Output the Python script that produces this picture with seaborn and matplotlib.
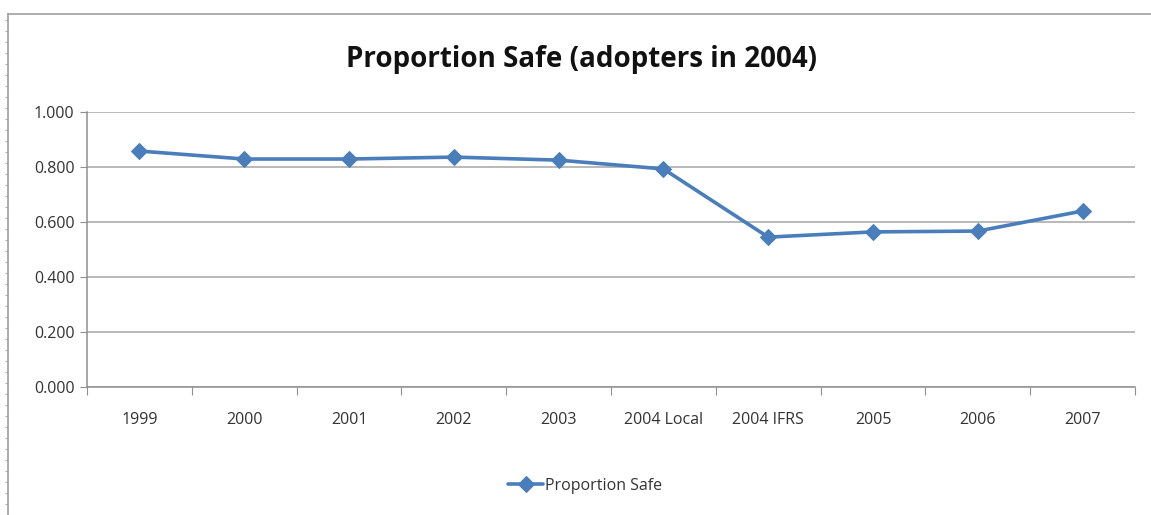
import numpy as np
import matplotlib
matplotlib.use("Agg")
import matplotlib.pyplot as plt
import seaborn as sns
import pandas as pd

categories = ["1999", "2000", "2001", "2002", "2003", "2004 Local",
              "2004 IFRS", "2005", "2006", "2007"]
proportion_safe = [0.858, 0.829, 0.829, 0.836, 0.825, 0.793,
                   0.545, 0.564, 0.567, 0.640]
y_ticks = [0.0, 0.2, 0.4, 0.6, 0.8, 1.0]

sns.set_style("white")
plt.rcParams["font.family"] = ["Open Sans", "DejaVu Sans"]

df = pd.DataFrame({"period": categories, "Proportion Safe": proportion_safe})

fig = plt.figure(figsize=(11.51, 5.15), dpi=100)

# sheet border (left + top) like the excel screenshot
frame = fig.add_axes([8/1151, 0.0, 1.0, 1 - 14/515])
frame.set_xlim(0, 1)
frame.set_ylim(0, 501)
frame.patch.set_alpha(0)
for s in ["right", "bottom"]:
    frame.spines[s].set_visible(False)
for s in ["left", "top"]:
    frame.spines[s].set_color("#a0a0a0")
    frame.spines[s].set_linewidth(1.2)
frame.set_yticks(np.arange(0, 501, 11))
frame.set_xticks([])
frame.tick_params(axis="y", left=True, length=2.5, width=0.8, color="#b0b0b0",
                  labelleft=False, direction="out")

ax = fig.add_axes([87/1151, 1 - 387/515, (1135 - 87)/1151, 275/515])
sns.lineplot(data=df, x="period", y="Proportion Safe", ax=ax, sort=False,
             color="#4a7ebb", linewidth=2.6, marker="D", markersize=8.5,
             markeredgecolor="#4a7ebb", label="Proportion Safe")

ax.set_xlim(-0.5, len(categories) - 0.5)
ax.set_ylim(0, 1.0)
ax.set_yticks(y_ticks)
ax.set_yticklabels([f"{v:.3f}" for v in y_ticks], fontsize=11.5, color="#333333")
ax.yaxis.grid(True, color="#a6a6a6", linewidth=1.1)
ax.set_axisbelow(True)

ax.set_xticks(np.arange(-0.5, len(categories), 1.0))
ax.set_xticklabels([])
ax.set_xticks(np.arange(len(categories)), minor=True)
ax.set_xticklabels(categories, minor=True, fontsize=11.5, color="#333333")
ax.tick_params(axis="x", which="major", length=6, color="#909090", direction="out", bottom=True)
ax.tick_params(axis="x", which="minor", length=0, pad=18)
ax.tick_params(axis="y", length=5, color="#909090", direction="out", left=True, pad=4)
ax.set_xlabel("")
ax.set_ylabel("")

for s in ["top", "right"]:
    ax.spines[s].set_visible(False)
for s in ["left", "bottom"]:
    ax.spines[s].set_color("#909090")
    ax.spines[s].set_linewidth(1.1)

fig.suptitle("Proportion Safe (adopters in 2004)", fontsize=20, fontweight="bold",
             x=581/1151, y=1 - 60/515, va="center", color="#111111")

ax.get_legend().remove()
handles, labels = ax.get_legend_handles_labels()
fig.legend(handles, labels, loc="center", bbox_to_anchor=(585/1151, 1 - 486/515),
           frameon=False, fontsize=11.5, handlelength=2.2, handletextpad=0.1,
           labelcolor="#333333")

fig.savefig("out.png", dpi=100)
